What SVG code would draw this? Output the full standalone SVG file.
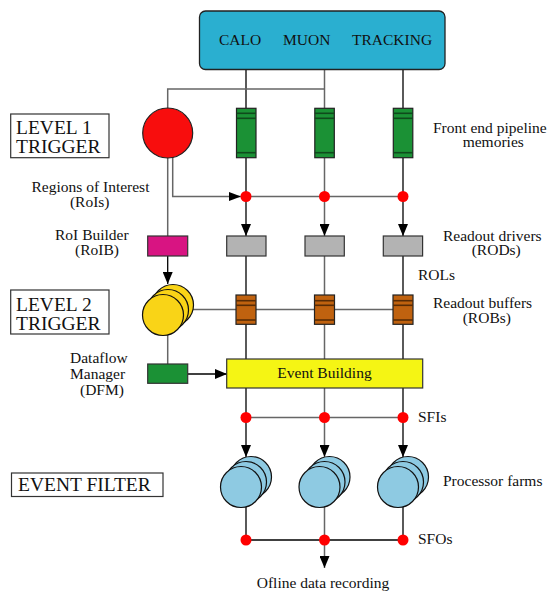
<svg xmlns="http://www.w3.org/2000/svg" width="549" height="592" viewBox="0 0 549 592">
<defs>
<marker id="ar" viewBox="0 0 12 10" refX="12" refY="5" markerWidth="12" markerHeight="10" markerUnits="userSpaceOnUse" orient="auto">
<path d="M0,0 L12,5 L0,10 Z" fill="#000"/>
</marker>
</defs>
<style>
text{font-family:"Liberation Serif","Times New Roman",serif;font-size:15.5px;fill:#111}
.big{font-size:19.5px}
.mid{text-anchor:middle}
.k{stroke:#000;stroke-width:1.3;fill:none}
.g{stroke:#666;stroke-width:1.5;fill:none}
.box{fill:#fff;stroke:#333;stroke-width:1.2}
.ol{stroke:#222;stroke-width:1.2}
.mem{fill:#1b9135;stroke:#222;stroke-width:1.2}
.stripe{stroke:#0f4a1c;stroke-width:1.6}
.rob{fill:#c0620f;stroke:#222;stroke-width:1.2}
.stripeo{stroke:#5a2c05;stroke-width:1.6}
.rod{fill:#b3b3b3;stroke:#333;stroke-width:1.2}
.dot{fill:#f00}
.farm{fill:#8ecae2;stroke:#111;stroke-width:1.2}
.yel{fill:#f9d417;stroke:#111;stroke-width:1.2}
</style>

<g id="connectors">
<!-- column 1 (black) -->
<line class="k" x1="246" y1="69" x2="246" y2="108"/>
<line class="k" x1="246" y1="158" x2="246" y2="196.5"/>
<line class="k" x1="246" y1="196.5" x2="246" y2="236" marker-end="url(#ar)"/>
<line class="k" x1="246" y1="256" x2="246" y2="295"/>
<line class="k" x1="246" y1="324" x2="246" y2="359"/>
<line class="k" x1="246" y1="388" x2="246" y2="417.5"/>
<line class="k" x1="246" y1="417.5" x2="246" y2="457" marker-end="url(#ar)"/>
<line class="k" x1="246" y1="506" x2="246" y2="540"/>
<!-- column 2 (grey) -->
<line class="g" x1="324.5" y1="69" x2="324.5" y2="108"/>
<line class="g" x1="324.5" y1="158" x2="324.5" y2="196.5"/>
<line class="g" x1="324.5" y1="196.5" x2="324.5" y2="236" marker-end="url(#ar)"/>
<line class="g" x1="324.5" y1="256" x2="324.5" y2="295"/>
<line class="g" x1="324.5" y1="324" x2="324.5" y2="359"/>
<line class="g" x1="324.5" y1="388" x2="324.5" y2="417.5"/>
<line class="g" x1="324.5" y1="417.5" x2="324.5" y2="457" marker-end="url(#ar)"/>
<line class="g" x1="324.5" y1="506" x2="324.5" y2="540"/>
<line class="g" x1="324.5" y1="540" x2="324.5" y2="568" marker-end="url(#ar)"/>
<!-- column 3 (black) -->
<line class="k" x1="403" y1="69" x2="403" y2="108"/>
<line class="k" x1="403" y1="158" x2="403" y2="196.5"/>
<line class="k" x1="403" y1="196.5" x2="403" y2="236" marker-end="url(#ar)"/>
<line class="k" x1="403" y1="256" x2="403" y2="295"/>
<line class="k" x1="403" y1="324" x2="403" y2="359"/>
<line class="k" x1="403" y1="388" x2="403" y2="417.5"/>
<line class="k" x1="403" y1="417.5" x2="403" y2="457" marker-end="url(#ar)"/>
<line class="k" x1="403" y1="506" x2="403" y2="540"/>
<!-- L1 feed -->
<polyline class="g" points="324.5,89 167.7,89 167.7,108"/>
<line class="g" x1="167.7" y1="158" x2="167.7" y2="236"/>
<polyline class="g" points="172.7,157 172.7,196.5 241,196.5"/>
<path d="M229,192 L241,196.5 L229,201 Z" fill="#000"/>
<line class="g" x1="246" y1="196.5" x2="403" y2="196.5"/>
<!-- RoIB to L2 -->
<line class="k" x1="167.7" y1="256" x2="167.7" y2="284" marker-end="url(#ar)"/>
<line class="g" x1="192" y1="309.5" x2="403" y2="309.5"/>
<line class="g" x1="167.7" y1="335" x2="167.7" y2="364"/>
<!-- DFM to EB -->
<line class="k" x1="188" y1="374" x2="227" y2="374" marker-end="url(#ar)"/>
<!-- SFI / SFO buses -->
<line class="g" x1="246" y1="417.5" x2="403" y2="417.5"/>
<line class="k" x1="246" y1="540" x2="403" y2="540"/>
</g>

<g id="detectors">
<rect x="199.5" y="11" width="245.5" height="58.5" rx="6" fill="#2aafd0" stroke="#222" stroke-width="1.3"/>
<text x="219" y="45">CALO</text>
<text x="283" y="45">MUON</text>
<text x="352" y="45">TRACKING</text>
</g>

<g id="level1-label">
<rect class="box" x="10.7" y="114" width="98.3" height="43.7"/>
<text class="big" x="16" y="133.5">LEVEL 1</text>
<text class="big" x="16" y="153">TRIGGER</text>
</g>

<g id="level1-trigger">
<circle cx="167.7" cy="133" r="25" fill="#f80d0d" stroke="#222" stroke-width="1.2"/>
</g>

<g id="pipelines">
<rect class="mem" x="236.5" y="108.3" width="19.5" height="49.4"/>
<line class="stripe" x1="236.5" y1="113.3" x2="256" y2="113.3"/>
<line class="stripe" x1="236.5" y1="118.3" x2="256" y2="118.3"/>
<line class="stripe" x1="236.5" y1="152.7" x2="256" y2="152.7"/>
<rect class="mem" x="314.8" y="108.3" width="19.5" height="49.4"/>
<line class="stripe" x1="314.8" y1="113.3" x2="334.3" y2="113.3"/>
<line class="stripe" x1="314.8" y1="118.3" x2="334.3" y2="118.3"/>
<line class="stripe" x1="314.8" y1="152.7" x2="334.3" y2="152.7"/>
<rect class="mem" x="393.3" y="108.3" width="19.5" height="49.4"/>
<line class="stripe" x1="393.3" y1="113.3" x2="412.8" y2="113.3"/>
<line class="stripe" x1="393.3" y1="118.3" x2="412.8" y2="118.3"/>
<line class="stripe" x1="393.3" y1="152.7" x2="412.8" y2="152.7"/>
<text x="433" y="133">Front end pipeline</text>
<text x="462.7" y="147">memories</text>
</g>

<g id="roi-dots">
<circle class="dot" cx="246" cy="196.5" r="5.5"/>
<circle class="dot" cx="324.5" cy="196.5" r="5.5"/>
<circle class="dot" cx="403" cy="196.5" r="5.5"/>
<text class="mid" x="90.5" y="191.7">Regions of Interest</text>
<text class="mid" x="89.7" y="206.7">(RoIs)</text>
</g>

<g id="roib">
<rect x="147.7" y="236" width="40" height="20" fill="#d81482" stroke="#333" stroke-width="1.2"/>
<text x="55" y="240">RoI Builder</text>
<text x="75" y="255">(RoIB)</text>
</g>

<g id="rods">
<rect class="rod" x="226.7" y="236" width="39.3" height="20"/>
<rect class="rod" x="305" y="236" width="39.3" height="20"/>
<rect class="rod" x="383.3" y="236" width="39.3" height="20"/>
<text x="443" y="240.7">Readout drivers</text>
<text x="471.7" y="255">(RODs)</text>
<text x="418" y="280">ROLs</text>
</g>

<g id="level2-label">
<rect class="box" x="10.7" y="290" width="98.3" height="44"/>
<text class="big" x="16" y="310.5">LEVEL 2</text>
<text class="big" x="16" y="329.5">TRIGGER</text>
</g>

<g id="level2-trigger">
<circle class="yel" cx="173" cy="305" r="20.5"/>
<circle class="yel" cx="168" cy="310" r="20.5"/>
<circle class="yel" cx="163" cy="315" r="20.5"/>
</g>

<g id="robs">
<rect class="rob" x="236" y="295" width="20" height="29.3"/>
<line class="stripeo" x1="236" y1="300.7" x2="256" y2="300.7"/>
<line class="stripeo" x1="236" y1="305.3" x2="256" y2="305.3"/>
<line class="stripeo" x1="236" y1="320" x2="256" y2="320"/>
<rect class="rob" x="314.5" y="295" width="20" height="29.3"/>
<line class="stripeo" x1="314.5" y1="300.7" x2="334.5" y2="300.7"/>
<line class="stripeo" x1="314.5" y1="305.3" x2="334.5" y2="305.3"/>
<line class="stripeo" x1="314.5" y1="320" x2="334.5" y2="320"/>
<rect class="rob" x="393" y="295" width="20" height="29.3"/>
<line class="stripeo" x1="393" y1="300.7" x2="413" y2="300.7"/>
<line class="stripeo" x1="393" y1="305.3" x2="413" y2="305.3"/>
<line class="stripeo" x1="393" y1="320" x2="413" y2="320"/>
<text x="433" y="308">Readout buffers</text>
<text x="462.7" y="322.7">(ROBs)</text>
</g>

<g id="dfm">
<rect x="147.7" y="364" width="40" height="19.3" fill="#1b9135" stroke="#333" stroke-width="1.2"/>
<text x="70" y="363">Dataflow</text>
<text x="70" y="378.5">Manager</text>
<text x="80" y="394.5">(DFM)</text>
</g>

<g id="event-building">
<rect x="226.7" y="359" width="196" height="29" fill="#f5f514" stroke="#333" stroke-width="1.2"/>
<text class="mid" x="324.5" y="378">Event Building</text>
</g>

<g id="sfis">
<circle class="dot" cx="246" cy="417.5" r="5.5"/>
<circle class="dot" cx="324.5" cy="417.5" r="5.5"/>
<circle class="dot" cx="403" cy="417.5" r="5.5"/>
<text x="418" y="422">SFIs</text>
</g>

<g id="event-filter-label">
<rect class="box" x="11.5" y="473" width="151.5" height="23.5"/>
<text class="big" x="18" y="491">EVENT FILTER</text>
</g>

<g id="farms">
<circle class="farm" cx="251" cy="477" r="20.5"/>
<circle class="farm" cx="246" cy="482" r="20.5"/>
<circle class="farm" cx="241" cy="487" r="20.5"/>
<circle class="farm" cx="329.5" cy="477" r="20.5"/>
<circle class="farm" cx="324.5" cy="482" r="20.5"/>
<circle class="farm" cx="319.5" cy="487" r="20.5"/>
<circle class="farm" cx="408" cy="477" r="20.5"/>
<circle class="farm" cx="403" cy="482" r="20.5"/>
<circle class="farm" cx="398" cy="487" r="20.5"/>
<text x="443" y="486">Processor farms</text>
</g>

<g id="sfos">
<circle class="dot" cx="246" cy="540" r="5.5"/>
<circle class="dot" cx="324.5" cy="540" r="5.5"/>
<circle class="dot" cx="403" cy="540" r="5.5"/>
<text x="418" y="544">SFOs</text>
</g>

<g id="offline">
<text class="mid" x="323" y="588">Ofline data recording</text>
</g>
</svg>
